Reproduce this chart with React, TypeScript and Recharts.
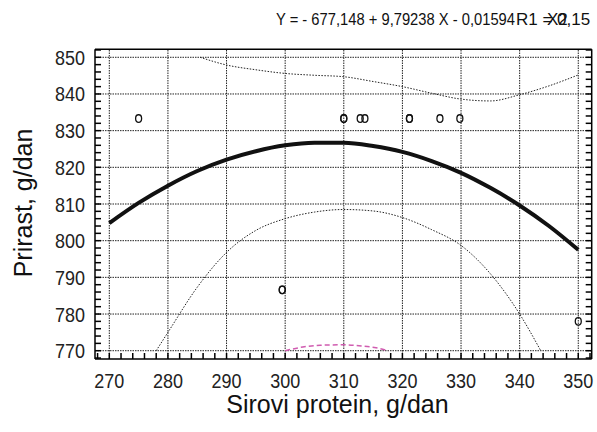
import { ComposedChart, Line, Scatter, XAxis, YAxis, ReferenceLine } from "recharts";

// fitted curve Y = -677,148 + 9,79238 X - 0,01594 X^2
const fitX = [270, 275, 280, 285, 290, 295, 300, 305, 310, 315, 320, 325, 330, 335, 340, 345, 350];
const fitY = [804.8, 810.3, 815.0, 819.0, 822.1, 824.4, 826.0, 826.7, 826.7, 825.8, 824.2, 821.7, 818.5, 814.4, 809.6, 804.0, 797.5];

// upper dotted band
const upperX = [285.5, 290, 295, 300, 305, 310, 315, 320, 325, 330, 335, 340, 345, 350];
const upperY = [850, 847.9, 846.6, 845.6, 845.1, 844.7, 843.4, 842.0, 840.2, 838.6, 838.1, 839.8, 842.2, 845.2];

// lower dotted band
const lowerX = [278, 280, 285, 290, 295, 300, 305, 310, 315, 320, 325, 330, 335, 340, 343.6];
const lowerY = [770, 775, 787.3, 796.8, 802.8, 806.0, 807.8, 808.5, 808.1, 806.3, 803.0, 798.7, 791.0, 780.0, 770];

// pink dashed curve near the bottom
const pinkX = [300, 303, 306, 310, 313, 315.5, 317.6];
const pinkY = [770, 771.0, 771.5, 771.6, 771.3, 770.8, 770];

// observations
const obsX = [275, 299.5, 299.5, 310, 310, 312.8, 313.6, 321.2, 321.2, 326.4, 329.8, 350];
const obsY = [833.3, 786.6, 786.6, 833.3, 833.3, 833.3, 833.3, 833.3, 833.3, 833.3, 833.3, 778];

const xMajor = [270, 280, 290, 300, 310, 320, 330, 340, 350];
const yMajor = [770, 780, 790, 800, 810, 820, 830, 840, 850];
const xTicks = [268, 270, 272, 274, 276, 278, 280, 282, 284, 286, 288, 290, 292, 294, 296, 298, 300, 302, 304, 306, 308, 310, 312, 314, 316, 318, 320, 322, 324, 326, 328, 330, 332, 334, 336, 338, 340, 342, 344, 346, 348, 350, 352];
const yTicks = [768, 770, 772, 774, 776, 778, 780, 782, 784, 786, 788, 790, 792, 794, 796, 798, 800, 802, 804, 806, 808, 810, 812, 814, 816, 818, 820, 822, 824, 826, 828, 830, 832, 834, 836, 838, 840, 842, 844, 846, 848, 850, 852];

const zip = (xs: number[], ys: number[]) => xs.map((x, i) => ({ x, y: ys[i] }));
const fitData = zip(fitX, fitY);
const upperData = zip(upperX, upperY);
const lowerData = zip(lowerX, lowerY);
const pinkData = zip(pinkX, pinkY);
const obsData = zip(obsX, obsY);

const FONT = '"Liberation Sans", Arial, sans-serif';
const isMajor = (v: number) => v % 10 === 0;
const TICK = 6;
const GAP = TICK + 2; // tick length + recharts' default tickMargin

// axes are mirrored so they take no room and their tick lines point inward;
// the custom tick only writes the labels for the major values, outside the frame
const BottomLabel = ({ x, y, payload }: any) =>
  isMajor(payload.value) ? (
    <text x={x} y={y + GAP + 29} textAnchor="middle" fontSize={20} fontFamily={FONT} fill="#222"
      textLength={30} lengthAdjust="spacingAndGlyphs">{payload.value}</text>
  ) : <g />;

const LeftLabel = ({ x, y, payload }: any) =>
  isMajor(payload.value) ? (
    <text x={x - GAP - 10} y={y + 7.5} textAnchor="end" fontSize={20} fontFamily={FONT} fill="#222"
      textLength={30} lengthAdjust="spacingAndGlyphs">{payload.value}</text>
  ) : <g />;

// tick={false} also drops the tick lines, so top/right get an empty label instead
const NoLabel = () => <g />;

const Ring = ({ cx, cy }: any) => (
  <ellipse cx={cx} cy={cy} rx={3} ry={3.8} fill="none" stroke="#111" strokeWidth={1.3} />
);

const X_DOMAIN: [number, number] = [267.56, 352.29];
const Y_DOMAIN: [number, number] = [767.74, 852.18];
const axisLine = { stroke: "#000", strokeWidth: 1.5 };
const tickLine = { stroke: "#000", strokeWidth: 1.5 };

export default function App() {
  return (
    <div style={{ position: "absolute", left: 0, top: 0, width: 597, height: 432, background: "#fff", fontFamily: FONT }}>
      <ComposedChart width={597} height={432} margin={{ top: 49.3, right: 5.3, bottom: 73, left: 95 }}>
        {xMajor.map((v) => (
          <ReferenceLine key={"gx" + v} x={v} xAxisId="b" yAxisId="l" stroke="#222" strokeWidth={1} strokeDasharray="1.5 1" />
        ))}
        {yMajor.map((v) => (
          <ReferenceLine key={"gy" + v} y={v} xAxisId="b" yAxisId="l" stroke="#222" strokeWidth={1} strokeDasharray="1.5 1" />
        ))}

        <Line xAxisId="b" yAxisId="l" data={upperData} dataKey="y" type="monotone" stroke="#222" strokeWidth={1}
          strokeDasharray="1.5 1.5" dot={false} isAnimationActive={false} />
        <Line xAxisId="b" yAxisId="l" data={lowerData} dataKey="y" type="monotone" stroke="#222" strokeWidth={1}
          strokeDasharray="1.5 1.5" dot={false} isAnimationActive={false} />
        <Line xAxisId="b" yAxisId="l" data={pinkData} dataKey="y" type="monotone" stroke="#d05cb0" strokeWidth={1.5}
          strokeDasharray="5 3" dot={false} isAnimationActive={false} />
        <Line xAxisId="b" yAxisId="l" data={fitData} dataKey="y" type="monotone" stroke="#111" strokeWidth={4}
          dot={false} isAnimationActive={false} />
        <Scatter xAxisId="b" yAxisId="l" data={obsData} shape={<Ring />} isAnimationActive={false} />

        <XAxis xAxisId="b" dataKey="x" type="number" orientation="bottom" mirror domain={X_DOMAIN} allowDataOverflow
          ticks={xTicks} interval={0} height={30} tickSize={TICK} tickLine={tickLine}
          axisLine={axisLine} tick={<BottomLabel />} />
        <XAxis xAxisId="t" type="number" orientation="top" mirror domain={X_DOMAIN} allowDataOverflow
          ticks={xTicks} interval={0} height={30} tickSize={TICK} tickLine={tickLine}
          axisLine={axisLine} tick={<NoLabel />} />
        <YAxis yAxisId="l" dataKey="y" type="number" orientation="left" mirror domain={Y_DOMAIN} allowDataOverflow
          ticks={yTicks} interval={0} width={40} tickSize={TICK} tickLine={tickLine}
          axisLine={axisLine} tick={<LeftLabel />} />
        <YAxis yAxisId="r" type="number" orientation="right" mirror domain={Y_DOMAIN} allowDataOverflow
          ticks={yTicks} interval={0} width={40} tickSize={TICK} tickLine={tickLine}
          axisLine={axisLine} tick={<NoLabel />} />
      </ComposedChart>

      <svg width={597} height={432} style={{ position: "absolute", left: 0, top: 0, pointerEvents: "none" }}>
        <text x={276} y={25} fontSize={17} fill="#111" fontFamily={FONT} textLength={239} lengthAdjust="spacingAndGlyphs">
          Y = - 677,148 + 9,79238 X - 0,01594
        </text>
        <text x={547} y={25} fontSize={17} fill="#111" fontFamily={FONT}>X2</text>
        <text x={516} y={25} fontSize={17} fill="#111" fontFamily={FONT}>R1 = 0,15</text>
        <text x={337.5} y={413} textAnchor="middle" fontSize={25} fill="#111" fontFamily={FONT}>
          Sirovi protein, g/dan
        </text>
        <text transform="translate(31.7,203) rotate(-90)" textAnchor="middle" fontSize={25} fill="#111" fontFamily={FONT}>
          Prirast, g/dan
        </text>
      </svg>
    </div>
  );
}
